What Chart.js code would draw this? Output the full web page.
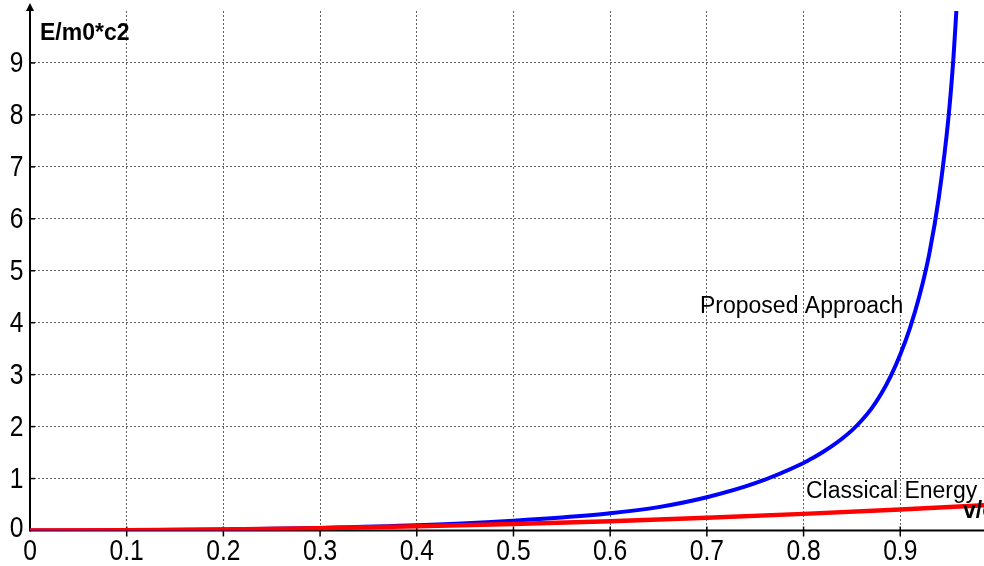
<!DOCTYPE html>
<html>
<head>
<meta charset="utf-8">
<script src="https://cdn.jsdelivr.net/npm/chart.js@4/dist/chart.umd.min.js"></script>
<style>
  html, body { margin: 0; padding: 0; background: #fff; }
  canvas { display: block; }
</style>
</head>
<body>
<canvas id="c" width="984" height="566"></canvas>
<script>
// v/c samples and energy ratios E/(m0*c^2)
const velocityProposed = [0, 0.1, 0.2, 0.3, 0.4, 0.5, 0.55, 0.6, 0.65, 0.7, 0.75, 0.8, 0.81, 0.82, 0.83, 0.84, 0.85, 0.86, 0.87, 0.88, 0.89, 0.9, 0.91, 0.92, 0.93, 0.94, 0.95, 0.955, 0.958];
const energyProposed   = [0, 0.005, 0.02, 0.05, 0.1, 0.19, 0.25, 0.33, 0.45, 0.64, 0.91, 1.3, 1.4, 1.51, 1.632, 1.77, 1.927, 2.117, 2.342, 2.622, 2.967, 3.387, 3.897, 4.527, 5.327, 6.427, 7.977, 9.1, 10.0];

const velocityClassical = [0, 0.1, 0.2, 0.3, 0.4, 0.5, 0.6, 0.7, 0.8, 0.9, 0.9866];
const energyClassical   = [0, 0.005, 0.02, 0.045, 0.08, 0.125, 0.18, 0.245, 0.32, 0.405, 0.487];

const xTickStep = 0.1;
const yTickStep = 1;
const xMax = 0.9866;
const yMax = 10;

const seriesLabels = ['Proposed Approach', 'Classical Energy'];
const axisTitleY = 'E/m0*c2';
const axisTitleX = 'v/c';

const toPoints = (xs, ys) => xs.map((x, i) => ({ x: x, y: ys[i] }));
const fmtX = v => String(Math.round(v * 10) / 10);
const fmtY = v => String(Math.round(v));

const gridColor = 'rgba(0,0,0,0.62)';
const tickFontCss = '29px "Liberation Sans", Arial, sans-serif';
const tickSqueeze = 0.85;

// axis lines, arrow, tick marks and labels
const axesPlugin = {
  id: 'axesPlugin',
  beforeDatasetsDraw(chart) {
    const { ctx, scales } = chart;
    const x0 = scales.x.getPixelForValue(0);
    const y0 = scales.y.getPixelForValue(0);
    ctx.save();
    ctx.strokeStyle = '#000';
    ctx.fillStyle = '#000';
    ctx.lineWidth = 2;
    // x axis
    ctx.beginPath();
    ctx.moveTo(x0, y0);
    ctx.lineTo(chart.width, y0);
    ctx.stroke();
    // y axis
    ctx.beginPath();
    ctx.moveTo(x0, y0 + 1);
    ctx.lineTo(x0, 8);
    ctx.stroke();
    // arrow head
    ctx.beginPath();
    ctx.moveTo(x0, 3);
    ctx.lineTo(x0 - 4, 11);
    ctx.lineTo(x0 + 4, 11);
    ctx.closePath();
    ctx.fill();
    // tick marks
    ctx.lineWidth = 1.5;
    scales.x.ticks.forEach(t => {
      if (t.value === 0) return;
      const px = scales.x.getPixelForValue(t.value);
      ctx.beginPath();
      ctx.moveTo(px, y0 - 4);
      ctx.lineTo(px, y0 + 6);
      ctx.stroke();
    });
    scales.y.ticks.forEach(t => {
      if (t.value === 0 || t.value >= yMax) return;
      const py = scales.y.getPixelForValue(t.value);
      ctx.beginPath();
      ctx.moveTo(x0, py);
      ctx.lineTo(x0 + 5, py);
      ctx.stroke();
    });
    ctx.restore();
  },
  afterDraw(chart) {
    const { ctx, scales } = chart;
    ctx.save();
    ctx.fillStyle = '#000';

    // tick labels, slightly condensed
    ctx.font = tickFontCss;
    ctx.textBaseline = 'middle';
    scales.x.ticks.forEach(t => {
      const px = scales.x.getPixelForValue(t.value);
      ctx.save();
      ctx.translate(px, 552);
      ctx.scale(tickSqueeze, 1);
      ctx.textAlign = 'center';
      ctx.fillText(fmtX(t.value), 0, 0);
      ctx.restore();
    });
    scales.y.ticks.forEach(t => {
      if (t.value >= yMax) return;
      const py = scales.y.getPixelForValue(t.value);
      ctx.save();
      ctx.translate(23.5, t.value === 0 ? py - 2 : py + 1);
      ctx.scale(tickSqueeze, 1);
      ctx.textAlign = 'right';
      ctx.fillText(fmtY(t.value), 0, 0);
      ctx.restore();
    });

    // axis titles and curve captions
    ctx.textBaseline = 'alphabetic';
    ctx.textAlign = 'left';
    ctx.font = 'bold 23px "Liberation Sans", Arial, sans-serif';
    ctx.fillText(axisTitleY, 40, 40);
    ctx.fillText(axisTitleX, 963, 518);
    ctx.font = '23px "Liberation Sans", Arial, sans-serif';
    ctx.fillText(seriesLabels[0], 700, 313);
    ctx.fillText(seriesLabels[1], 806, 498);
    ctx.restore();
  }
};

new Chart(document.getElementById('c'), {
  type: 'scatter',
  data: {
    datasets: [
      {
        label: seriesLabels[1],
        data: toPoints(velocityClassical, energyClassical),
        showLine: true,
        borderColor: '#ff0000',
        borderWidth: 4.5,
        pointRadius: 0,
        fill: false,
        order: 0
      },
      {
        label: seriesLabels[0],
        data: toPoints(velocityProposed, energyProposed),
        showLine: true,
        borderColor: '#0000ff',
        borderWidth: 4,
        pointRadius: 0,
        fill: false,
        cubicInterpolationMode: 'monotone',
        order: 1
      }
    ]
  },
  options: {
    responsive: false,
    animation: false,
    devicePixelRatio: 1,
    layout: { padding: { top: 11, left: 0, right: 0, bottom: 0 } },
    plugins: {
      legend: { display: false },
      title: { display: false },
      tooltip: { enabled: false }
    },
    scales: {
      x: {
        type: 'linear',
        min: 0,
        max: xMax,
        border: { display: false, dash: [2, 2] },
        grid: {
          drawTicks: false,
          color: ctx => (ctx.tick && ctx.tick.value === 0) ? 'rgba(0,0,0,0)' : gridColor,
          lineWidth: 1
        },
        ticks: {
          display: false,
          stepSize: xTickStep,
          includeBounds: false,
          autoSkip: false
        },
        afterFit: scale => { scale.height = 35.5; }
      },
      y: {
        type: 'linear',
        min: 0,
        max: yMax,
        border: { display: false, dash: [2, 2] },
        grid: {
          drawTicks: false,
          color: ctx => (ctx.tick && (ctx.tick.value === 0 || ctx.tick.value >= yMax)) ? 'rgba(0,0,0,0)' : gridColor,
          lineWidth: 1
        },
        ticks: {
          display: false,
          stepSize: yTickStep,
          includeBounds: false,
          autoSkip: false
        },
        afterFit: scale => { scale.width = 30; }
      }
    }
  },
  plugins: [axesPlugin]
});
</script>
</body>
</html>
